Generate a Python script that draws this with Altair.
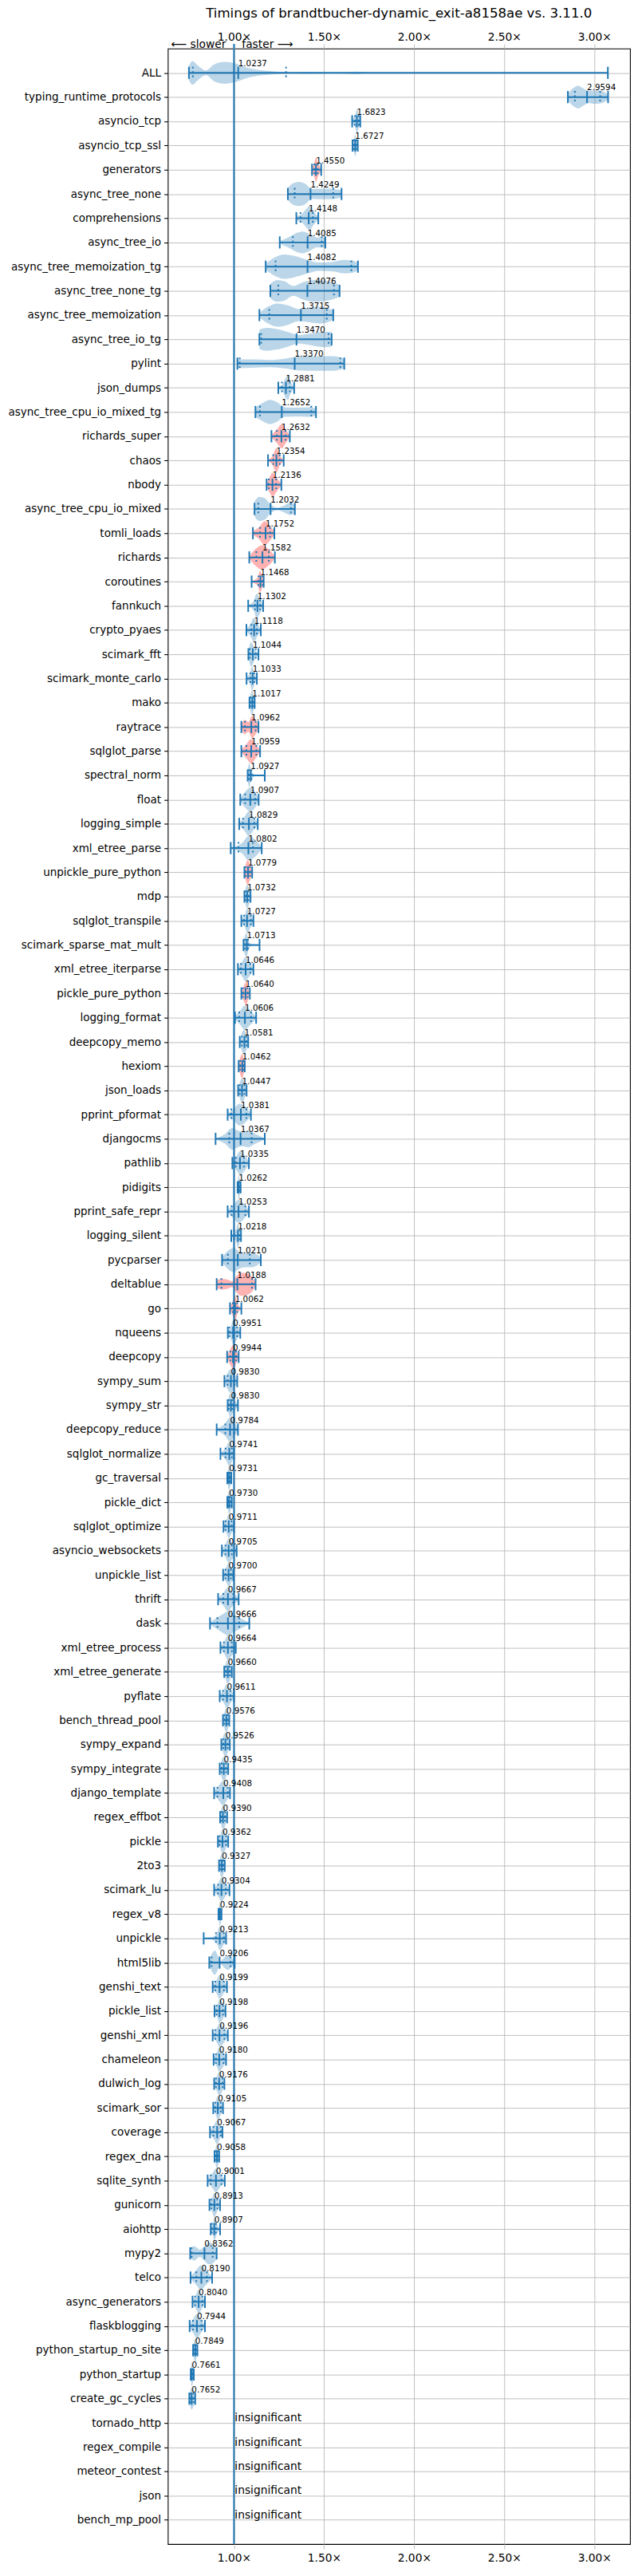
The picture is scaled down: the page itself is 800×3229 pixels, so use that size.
import json

import altair as alt
import pandas as pd

FONT = "DejaVu Sans"
C0 = "#1f77b4"
TITLE = "Timings of brandtbucher-dynamic_exit-a8158ae vs. 3.11.0"

# --- benchmark rows, top to bottom ---
names = [
    "ALL", "typing_runtime_protocols", "asyncio_tcp", "asyncio_tcp_ssl", "generators",
    "async_tree_none", "comprehensions", "async_tree_io", "async_tree_memoization_tg",
    "async_tree_none_tg", "async_tree_memoization", "async_tree_io_tg", "pylint",
    "json_dumps", "async_tree_cpu_io_mixed_tg", "richards_super", "chaos", "nbody",
    "async_tree_cpu_io_mixed", "tomli_loads", "richards", "coroutines", "fannkuch",
    "crypto_pyaes", "scimark_fft", "scimark_monte_carlo", "mako", "raytrace",
    "sqlglot_parse", "spectral_norm", "float", "logging_simple", "xml_etree_parse",
    "unpickle_pure_python", "mdp", "sqlglot_transpile", "scimark_sparse_mat_mult",
    "xml_etree_iterparse", "pickle_pure_python", "logging_format", "deepcopy_memo",
    "hexiom", "json_loads", "pprint_pformat", "djangocms", "pathlib", "pidigits",
    "pprint_safe_repr", "logging_silent", "pycparser", "deltablue", "go", "nqueens",
    "deepcopy", "sympy_sum", "sympy_str", "deepcopy_reduce", "sqlglot_normalize",
    "gc_traversal", "pickle_dict", "sqlglot_optimize", "asyncio_websockets",
    "unpickle_list", "thrift", "dask", "xml_etree_process", "xml_etree_generate",
    "pyflate", "bench_thread_pool", "sympy_expand", "sympy_integrate",
    "django_template", "regex_effbot", "pickle", "2to3", "scimark_lu", "regex_v8",
    "unpickle", "html5lib", "genshi_text", "pickle_list", "genshi_xml", "chameleon",
    "dulwich_log", "scimark_sor", "coverage", "regex_dna", "sqlite_synth", "gunicorn",
    "aiohttp", "mypy2", "telco", "async_generators", "flaskblogging",
    "python_startup_no_site", "python_startup", "create_gc_cycles",
    "tornado_http", "regex_compile", "meteor_contest", "json", "bench_mp_pool",
]

medians = [
    1.0237, 2.9594, 1.6823, 1.6727, 1.4550, 1.4249, 1.4148, 1.4085, 1.4082, 1.4076,
    1.3715, 1.3470, 1.3370, 1.2881, 1.2652, 1.2632, 1.2354, 1.2136, 1.2032, 1.1752,
    1.1582, 1.1468, 1.1302, 1.1118, 1.1044, 1.1033, 1.1017, 1.0962, 1.0959, 1.0927,
    1.0907, 1.0829, 1.0802, 1.0779, 1.0732, 1.0727, 1.0713, 1.0646, 1.0640, 1.0606,
    1.0581, 1.0462, 1.0447, 1.0381, 1.0367, 1.0335, 1.0262, 1.0253, 1.0218, 1.0210,
    1.0188, 1.0062, 0.9951, 0.9944, 0.9830, 0.9830, 0.9784, 0.9741, 0.9731, 0.9730,
    0.9711, 0.9705, 0.9700, 0.9667, 0.9666, 0.9664, 0.9660, 0.9611, 0.9576, 0.9526,
    0.9435, 0.9408, 0.9390, 0.9362, 0.9327, 0.9304, 0.9224, 0.9213, 0.9206, 0.9199,
    0.9198, 0.9196, 0.9180, 0.9176, 0.9105, 0.9067, 0.9058, 0.9001, 0.8913, 0.8907,
    0.8362, 0.8190, 0.8040, 0.7944, 0.7849, 0.7661, 0.7652,
]

mins = [
    0.750, 2.853, 1.656, 1.658, 1.433, 1.299, 1.346, 1.254, 1.176, 1.202,
    1.141, 1.141, 1.019, 1.246, 1.119, 1.208, 1.189, 1.181, 1.114, 1.105,
    1.085, 1.098, 1.079, 1.069, 1.080, 1.070, 1.086, 1.041, 1.041, 1.076,
    1.035, 1.029, 0.982, 1.058, 1.058, 1.041, 1.053, 1.022, 1.041, 1.006,
    1.032, 1.026, 1.023, 0.965, 0.898, 0.991, 1.020, 0.965, 0.985, 0.934,
    0.904, 0.978, 0.966, 0.962, 0.947, 0.965, 0.904, 0.925, 0.963, 0.963,
    0.942, 0.933, 0.940, 0.912, 0.867, 0.925, 0.946, 0.921, 0.939, 0.930,
    0.921, 0.890, 0.923, 0.911, 0.917, 0.890, 0.914, 0.832, 0.863, 0.882,
    0.892, 0.882, 0.887, 0.890, 0.885, 0.867, 0.892, 0.854, 0.864, 0.871,
    0.757, 0.759, 0.770, 0.754, 0.773, 0.760, 0.752,
]

q1s = [
    0.772, 2.892, 1.672, 1.666, 1.446, 1.337, 1.369, 1.327, 1.231, 1.246,
    1.196, 1.151, 1.032, 1.266, 1.144, 1.238, 1.218, 1.193, 1.135, 1.145,
    1.124, 1.136, 1.117, 1.096, 1.088, 1.091, 1.092, 1.061, 1.069, 1.083,
    1.062, 1.050, 1.025, 1.066, 1.064, 1.056, 1.062, 1.039, 1.050, 1.029,
    1.044, 1.035, 1.032, 0.985, 0.974, 1.010, 1.023, 0.987, 1.000, 0.966,
    0.930, 0.994, 0.974, 0.980, 0.965, 0.971, 0.952, 0.953, 0.968, 0.968,
    0.953, 0.953, 0.953, 0.941, 0.908, 0.944, 0.955, 0.939, 0.947, 0.941,
    0.932, 0.908, 0.930, 0.920, 0.924, 0.912, 0.918, 0.900, 0.876, 0.896,
    0.904, 0.896, 0.900, 0.900, 0.896, 0.886, 0.898, 0.871, 0.874, 0.877,
    0.765, 0.791, 0.784, 0.772, 0.779, 0.763, 0.758,
]

q3s = [
    1.289, 3.032, 1.693, 1.680, 1.465, 1.551, 1.4375, 1.487, 1.651, 1.555,
    1.515, 1.525, 1.590, 1.310, 1.429, 1.286, 1.254, 1.234, 1.316, 1.200,
    1.193, 1.159, 1.145, 1.127, 1.121, 1.113, 1.110, 1.120, 1.124, 1.097,
    1.117, 1.113, 1.105, 1.089, 1.081, 1.094, 1.078, 1.091, 1.076, 1.095,
    1.069, 1.053, 1.058, 1.069, 1.098, 1.055, 1.031, 1.063, 1.032, 1.088,
    1.100, 1.018, 1.018, 1.012, 1.003, 0.990, 1.000, 0.988, 0.978, 0.980,
    0.987, 0.988, 0.983, 0.996, 1.029, 0.988, 0.976, 0.981, 0.966, 0.965,
    0.956, 0.966, 0.950, 0.956, 0.941, 0.955, 0.927, 0.944, 0.981, 0.944,
    0.939, 0.947, 0.942, 0.937, 0.927, 0.927, 0.912, 0.930, 0.908, 0.900,
    0.882, 0.850, 0.825, 0.820, 0.791, 0.771, 0.775,
]

maxs = [
    3.075, 3.076, 1.701, 1.687, 1.484, 1.597, 1.468, 1.507, 1.688, 1.586,
    1.551, 1.542, 1.612, 1.334, 1.455, 1.310, 1.276, 1.263, 1.338, 1.224,
    1.227, 1.165, 1.162, 1.149, 1.136, 1.127, 1.115, 1.136, 1.145, 1.171,
    1.137, 1.132, 1.154, 1.101, 1.092, 1.108, 1.142, 1.108, 1.088, 1.123,
    1.079, 1.060, 1.070, 1.094, 1.171, 1.083, 1.037, 1.083, 1.039, 1.149,
    1.120, 1.041, 1.035, 1.026, 1.018, 1.022, 1.022, 1.000, 0.985, 0.988,
    1.000, 1.015, 0.996, 1.026, 1.085, 1.010, 0.988, 1.000, 0.974, 0.977,
    0.968, 0.978, 0.962, 0.968, 0.949, 0.975, 0.931, 0.956, 1.004, 0.961,
    0.953, 0.966, 0.956, 0.947, 0.939, 0.936, 0.918, 0.949, 0.923, 0.923,
    0.904, 0.879, 0.839, 0.839, 0.797, 0.777, 0.785,
]

red_rows = [
    "generators", "richards_super", "chaos", "nbody", "tomli_loads", "richards",
    "coroutines", "raytrace", "sqlglot_parse", "unpickle_pure_python",
    "pickle_pure_python", "hexiom", "deltablue", "go", "deepcopy",
]

# violin outlines: (value, half width in row units)
shapes = [
    [[0.75, 0.30], [0.77, 0.49], [0.80, 0.30], [0.845, 0.10], [0.89, 0.35], [0.95, 0.45],
     [1.01, 0.38], [1.08, 0.20], [1.16, 0.10], [1.26, 0.04], [1.33, 0.02], [1.42, 0.04],
     [1.52, 0.02], [1.60, 0.02], [1.68, 0.05], [1.76, 0.01], [2.2, 0.005], [2.95, 0.01],
     [3.075, 0.005]],
    [[2.853, 0.15], [2.88, 0.35], [2.91, 0.47], [2.94, 0.35], [2.97, 0.25], [3.0, 0.28],
     [3.04, 0.25], [3.076, 0.10]],
    [[1.656, 0.05], [1.672, 0.25], [1.684, 0.5], [1.693, 0.25], [1.701, 0.05]],
    [[1.658, 0.05], [1.667, 0.3], [1.673, 0.45], [1.680, 0.25], [1.687, 0.05]],
    [[1.433, 0.05], [1.446, 0.3], [1.455, 0.5], [1.465, 0.3], [1.484, 0.05]],
    [[1.299, 0.25], [1.33, 0.45], [1.36, 0.5], [1.40, 0.4], [1.43, 0.2], [1.47, 0.22],
     [1.53, 0.22], [1.597, 0.15]],
    [[1.346, 0.08], [1.38, 0.2], [1.41, 0.45], [1.42, 0.5], [1.44, 0.3], [1.468, 0.05]],
    [[1.254, 0.05], [1.30, 0.2], [1.35, 0.4], [1.38, 0.45], [1.42, 0.35], [1.46, 0.2],
     [1.49, 0.22], [1.507, 0.15]],
    [[1.176, 0.12], [1.22, 0.35], [1.28, 0.5], [1.33, 0.45], [1.40, 0.3], [1.47, 0.17],
     [1.55, 0.2], [1.61, 0.28], [1.66, 0.25], [1.688, 0.15]],
    [[1.202, 0.3], [1.24, 0.45], [1.28, 0.4], [1.33, 0.2], [1.38, 0.35], [1.45, 0.45],
     [1.52, 0.4], [1.586, 0.25]],
    [[1.141, 0.1], [1.19, 0.35], [1.24, 0.48], [1.30, 0.4], [1.36, 0.25], [1.42, 0.3],
     [1.48, 0.35], [1.551, 0.2]],
    [[1.141, 0.4], [1.18, 0.47], [1.24, 0.42], [1.30, 0.3], [1.36, 0.18], [1.43, 0.25],
     [1.50, 0.32], [1.542, 0.3]],
    [[1.019, 0.18], [1.10, 0.17], [1.20, 0.15], [1.28, 0.2], [1.35, 0.28], [1.45, 0.3],
     [1.55, 0.3], [1.612, 0.2]],
    [[1.246, 0.05], [1.27, 0.15], [1.29, 0.45], [1.30, 0.5], [1.31, 0.3], [1.334, 0.05]],
    [[1.119, 0.2], [1.16, 0.38], [1.20, 0.5], [1.24, 0.4], [1.28, 0.2], [1.35, 0.18],
     [1.42, 0.2], [1.455, 0.15]],
    [[1.208, 0.05], [1.24, 0.3], [1.265, 0.5], [1.29, 0.25], [1.31, 0.05]],
    [[1.189, 0.03], [1.215, 0.2], [1.235, 0.5], [1.255, 0.2], [1.276, 0.03]],
    [[1.181, 0.05], [1.20, 0.35], [1.215, 0.5], [1.235, 0.3], [1.263, 0.05]],
    [[1.114, 0.3], [1.14, 0.5], [1.17, 0.45], [1.20, 0.2], [1.24, 0.05], [1.28, 0.15],
     [1.31, 0.25], [1.338, 0.2]],
    [[1.105, 0.08], [1.14, 0.25], [1.17, 0.5], [1.20, 0.3], [1.224, 0.08]],
    [[1.085, 0.05], [1.12, 0.35], [1.155, 0.5], [1.19, 0.35], [1.227, 0.05]],
    [[1.098, 0.03], [1.13, 0.15], [1.145, 0.45], [1.155, 0.3], [1.165, 0.05]],
    [[1.079, 0.03], [1.11, 0.2], [1.125, 0.5], [1.145, 0.3], [1.162, 0.03]],
    [[1.069, 0.03], [1.095, 0.3], [1.11, 0.5], [1.13, 0.25], [1.149, 0.03]],
    [[1.08, 0.1], [1.095, 0.5], [1.105, 0.4], [1.12, 0.15], [1.136, 0.05]],
    [[1.07, 0.03], [1.09, 0.25], [1.10, 0.5], [1.115, 0.2], [1.127, 0.03]],
    [[1.086, 0.05], [1.10, 0.5], [1.115, 0.05]],
    [[1.041, 0.1], [1.06, 0.3], [1.08, 0.2], [1.10, 0.45], [1.12, 0.3], [1.136, 0.1]],
    [[1.041, 0.05], [1.07, 0.3], [1.095, 0.5], [1.12, 0.3], [1.145, 0.05]],
    [[1.076, 0.2], [1.085, 0.5], [1.095, 0.2], [1.12, 0.03], [1.171, 0.02]],
    [[1.035, 0.05], [1.065, 0.35], [1.09, 0.5], [1.115, 0.35], [1.137, 0.05]],
    [[1.029, 0.05], [1.06, 0.3], [1.08, 0.5], [1.105, 0.3], [1.132, 0.05]],
    [[0.982, 0.03], [1.02, 0.1], [1.05, 0.25], [1.08, 0.5], [1.11, 0.4], [1.154, 0.05]],
    [[1.058, 0.05], [1.075, 0.5], [1.09, 0.3], [1.101, 0.05]],
    [[1.058, 0.05], [1.073, 0.5], [1.092, 0.05]],
    [[1.041, 0.05], [1.06, 0.25], [1.073, 0.5], [1.09, 0.3], [1.108, 0.05]],
    [[1.053, 0.2], [1.07, 0.5], [1.08, 0.2], [1.10, 0.03], [1.142, 0.02]],
    [[1.022, 0.05], [1.045, 0.3], [1.065, 0.5], [1.085, 0.3], [1.108, 0.05]],
    [[1.041, 0.05], [1.06, 0.4], [1.068, 0.5], [1.08, 0.2], [1.088, 0.05]],
    [[1.006, 0.05], [1.035, 0.3], [1.06, 0.5], [1.09, 0.3], [1.123, 0.05]],
    [[1.032, 0.05], [1.055, 0.5], [1.07, 0.3], [1.079, 0.05]],
    [[1.026, 0.05], [1.045, 0.5], [1.06, 0.05]],
    [[1.023, 0.05], [1.045, 0.5], [1.06, 0.3], [1.07, 0.05]],
    [[0.965, 0.05], [1.0, 0.25], [1.03, 0.45], [1.05, 0.4], [1.094, 0.05]],
    [[0.898, 0.02], [0.95, 0.2], [0.99, 0.45], [1.02, 0.35], [1.05, 0.3], [1.08, 0.35],
     [1.12, 0.2], [1.171, 0.02]],
    [[0.991, 0.05], [1.015, 0.3], [1.035, 0.5], [1.06, 0.3], [1.083, 0.05]],
    [[1.02, 0.05], [1.026, 0.5], [1.037, 0.05]],
    [[0.965, 0.05], [1.0, 0.3], [1.025, 0.48], [1.05, 0.35], [1.083, 0.05]],
    [[0.985, 0.05], [1.01, 0.2], [1.022, 0.5], [1.03, 0.3], [1.039, 0.05]],
    [[0.934, 0.1], [0.97, 0.4], [1.0, 0.5], [1.03, 0.35], [1.06, 0.3], [1.10, 0.3],
     [1.149, 0.1]],
    [[0.904, 0.15], [0.93, 0.22], [0.96, 0.2], [0.99, 0.12], [1.01, 0.3], [1.04, 0.48],
     [1.07, 0.45], [1.10, 0.3], [1.12, 0.1]],
    [[0.978, 0.05], [1.0, 0.4], [1.006, 0.5], [1.02, 0.2], [1.041, 0.03]],
    [[0.966, 0.05], [0.985, 0.3], [0.995, 0.5], [1.015, 0.3], [1.035, 0.05]],
    [[0.962, 0.05], [0.985, 0.4], [0.994, 0.5], [1.01, 0.3], [1.026, 0.05]],
    [[0.947, 0.05], [0.97, 0.4], [0.983, 0.5], [1.0, 0.3], [1.018, 0.05]],
    [[0.965, 0.1], [0.98, 0.5], [0.995, 0.3], [1.022, 0.05]],
    [[0.904, 0.05], [0.95, 0.25], [0.978, 0.5], [1.0, 0.3], [1.022, 0.05]],
    [[0.925, 0.05], [0.955, 0.25], [0.974, 0.5], [0.99, 0.3], [1.0, 0.05]],
    [[0.963, 0.1], [0.973, 0.5], [0.985, 0.1]],
    [[0.963, 0.1], [0.973, 0.5], [0.988, 0.1]],
    [[0.942, 0.05], [0.96, 0.3], [0.971, 0.5], [0.985, 0.3], [1.0, 0.05]],
    [[0.933, 0.05], [0.955, 0.3], [0.97, 0.5], [0.99, 0.35], [1.015, 0.05]],
    [[0.94, 0.05], [0.96, 0.35], [0.97, 0.5], [0.985, 0.3], [0.996, 0.05]],
    [[0.912, 0.05], [0.945, 0.3], [0.967, 0.5], [0.99, 0.3], [1.026, 0.05]],
    [[0.867, 0.05], [0.91, 0.25], [0.945, 0.42], [0.967, 0.5], [1.0, 0.35], [1.04, 0.2],
     [1.085, 0.03]],
    [[0.925, 0.05], [0.95, 0.3], [0.966, 0.5], [0.99, 0.3], [1.01, 0.05]],
    [[0.946, 0.05], [0.966, 0.5], [0.988, 0.05]],
    [[0.921, 0.05], [0.945, 0.3], [0.961, 0.5], [0.98, 0.3], [1.0, 0.05]],
    [[0.939, 0.05], [0.958, 0.5], [0.974, 0.05]],
    [[0.93, 0.05], [0.952, 0.5], [0.977, 0.05]],
    [[0.921, 0.05], [0.943, 0.5], [0.968, 0.05]],
    [[0.89, 0.05], [0.915, 0.3], [0.94, 0.5], [0.96, 0.3], [0.978, 0.05]],
    [[0.923, 0.05], [0.939, 0.5], [0.962, 0.05]],
    [[0.911, 0.05], [0.925, 0.3], [0.936, 0.5], [0.955, 0.3], [0.968, 0.05]],
    [[0.917, 0.05], [0.933, 0.5], [0.949, 0.05]],
    [[0.89, 0.05], [0.915, 0.3], [0.93, 0.5], [0.95, 0.3], [0.975, 0.05]],
    [[0.914, 0.05], [0.922, 0.5], [0.931, 0.05]],
    [[0.832, 0.02], [0.88, 0.05], [0.91, 0.3], [0.92, 0.5], [0.94, 0.3], [0.956, 0.05]],
    [[0.863, 0.1], [0.88, 0.4], [0.895, 0.5], [0.91, 0.3], [0.925, 0.05], [0.945, 0.2],
     [0.965, 0.3], [0.985, 0.2], [1.004, 0.05]],
    [[0.882, 0.05], [0.905, 0.3], [0.92, 0.5], [0.94, 0.3], [0.961, 0.05]],
    [[0.892, 0.05], [0.91, 0.3], [0.92, 0.5], [0.94, 0.3], [0.953, 0.05]],
    [[0.882, 0.05], [0.905, 0.3], [0.92, 0.5], [0.945, 0.3], [0.966, 0.05]],
    [[0.887, 0.05], [0.905, 0.3], [0.918, 0.5], [0.94, 0.3], [0.956, 0.05]],
    [[0.89, 0.05], [0.905, 0.3], [0.918, 0.5], [0.935, 0.3], [0.947, 0.05]],
    [[0.885, 0.05], [0.9, 0.3], [0.91, 0.5], [0.925, 0.3], [0.939, 0.05]],
    [[0.867, 0.05], [0.89, 0.3], [0.907, 0.5], [0.92, 0.3], [0.936, 0.05]],
    [[0.892, 0.05], [0.906, 0.5], [0.918, 0.05]],
    [[0.854, 0.05], [0.88, 0.3], [0.9, 0.5], [0.92, 0.3], [0.949, 0.05]],
    [[0.864, 0.05], [0.88, 0.3], [0.891, 0.5], [0.905, 0.3], [0.923, 0.05]],
    [[0.871, 0.05], [0.885, 0.3], [0.891, 0.5], [0.905, 0.2], [0.923, 0.05]],
    [[0.757, 0.2], [0.78, 0.3], [0.81, 0.15], [0.83, 0.25], [0.86, 0.45], [0.885, 0.4],
     [0.904, 0.2]],
    [[0.759, 0.05], [0.79, 0.3], [0.815, 0.5], [0.845, 0.3], [0.879, 0.05]],
    [[0.77, 0.05], [0.79, 0.3], [0.804, 0.5], [0.82, 0.3], [0.839, 0.05]],
    [[0.754, 0.05], [0.775, 0.3], [0.794, 0.5], [0.815, 0.3], [0.839, 0.05]],
    [[0.773, 0.05], [0.785, 0.5], [0.797, 0.05]],
    [[0.760, 0.05], [0.766, 0.5], [0.777, 0.05]],
    [[0.752, 0.05], [0.765, 0.45], [0.785, 0.05]],
]

x_ticks = [1.0, 1.5, 2.0, 2.5, 3.0]

# --- build tables ---
n_sig = len(medians)
stats = pd.DataFrame({
    "name": names[:n_sig],
    "pos": range(1, n_sig + 1),
    "lo": mins, "q1": q1s, "med": medians, "q3": q3s, "hi": maxs,
})
stats["top"] = stats["pos"] - 0.25
stats["bot"] = stats["pos"] + 0.25
stats["label"] = stats["med"].map(lambda v: f"{v:.4f}")

vrows = []
for pos, (name, pts) in enumerate(zip(names, shapes), start=1):
    kind = "red" if name in red_rows else "blue"
    for x, w in pts:
        vrows.append({"name": name, "kind": kind, "x": x, "y1": pos - w, "y2": pos + w})
violins = pd.DataFrame(vrows)

ends = stats.melt(id_vars=["name", "top", "bot"], value_vars=["lo", "med", "hi"], value_name="x")
quarts = stats.melt(id_vars=["name", "top", "bot"], value_vars=["q1", "q3"], value_name="x")
insig = pd.DataFrame({"name": names[n_sig:], "pos": range(n_sig + 1, len(names) + 1)})
insig["x"] = 1.0
insig["text"] = "insignificant"

xs = alt.Scale(domain=[0.633, 3.198], nice=False, zero=False)
ys = alt.Scale(domain=[0, len(names) + 1], reverse=True, nice=False, zero=False)

x_fmt = "format(datum.value, '.2f') + '×'"
x_top = alt.Axis(
    orient="top", values=x_ticks, labelExpr=x_fmt, title=None, domain=False,
    tickSize=6, tickColor="#b0b0b0", tickWidth=0.8, labelPadding=5,
    labelBaseline="alphabetic", labelFont=FONT, labelFontSize=13.9, labelColor="black",
    grid=True, gridColor="#b0b0b0", gridWidth=0.8,
)
x_bottom = alt.Axis(
    orient="bottom", values=x_ticks, labelExpr=x_fmt, title=None, domain=False,
    tickSize=6, tickColor="#b0b0b0", tickWidth=0.8, labelPadding=16,
    labelBaseline="alphabetic", labelFont=FONT, labelFontSize=13.9, labelColor="black",
    grid=False,
)
y_axis = alt.Axis(
    values=list(range(1, len(names) + 1)),
    labelExpr=f"{json.dumps(names)}[datum.value - 1]",
    title=None, domain=False, tickSize=4.9, tickColor="black", tickWidth=1.1,
    labelPadding=4, labelFont=FONT, labelFontSize=13.6, labelColor="black",
    labelBaseline="middle", labelOverlap=False, labelFlush=False, labelLimit=0,
    grid=True, gridColor="#b0b0b0", gridWidth=0.8,
)

violin = alt.Chart(violins).mark_area(
    interpolate="monotone", orient="vertical", opacity=0.3
).encode(
    x=alt.X("x:Q", scale=xs, axis=x_top),
    y=alt.Y("y1:Q", scale=ys, axis=y_axis, stack=None),
    y2="y2:Q",
    color=alt.Color("kind:N", scale=alt.Scale(domain=["blue", "red"], range=[C0, "#ff0000"]),
                    legend=None),
    detail="name:N",
)

baseline_df = pd.DataFrame({"x": [1.0]})
one = alt.Chart(baseline_df).mark_rule(color=C0, strokeWidth=2).encode(
    x=alt.X("x:Q", scale=xs, axis=None)
)
one_tick = alt.Chart(baseline_df).mark_rule(color=C0, strokeWidth=2).encode(
    x=alt.X("x:Q", scale=xs, axis=None), y=alt.value(-6), y2=alt.value(0)
)

bars = alt.Chart(stats).mark_rule(color=C0, strokeWidth=2).encode(
    x=alt.X("lo:Q", scale=xs, axis=x_bottom),
    x2="hi:Q",
    y=alt.Y("pos:Q", scale=ys, axis=None),
)

caps = alt.Chart(ends).mark_rule(color=C0, strokeWidth=2).encode(
    x=alt.X("x:Q", scale=xs, axis=None),
    y=alt.Y("top:Q", scale=ys, axis=None),
    y2="bot:Q",
)

dots = alt.Chart(quarts).mark_rule(color=C0, strokeWidth=2, strokeDash=[2.1, 3.4]).encode(
    x=alt.X("x:Q", scale=xs, axis=None),
    y=alt.Y("top:Q", scale=ys, axis=None),
    y2="bot:Q",
)

labels = alt.Chart(stats).mark_text(
    align="left", baseline="alphabetic", dy=-8.3, font=FONT, fontSize=10.4, color="black"
).encode(
    x=alt.X("med:Q", scale=xs, axis=None),
    y=alt.Y("pos:Q", scale=ys, axis=None),
    text="label:N",
)

insig_text = alt.Chart(insig).mark_text(
    align="left", baseline="alphabetic", dx=1, dy=-2, font=FONT, fontSize=13.9, color="black"
).encode(
    x=alt.X("x:Q", scale=xs, axis=None),
    y=alt.Y("pos:Q", scale=ys, axis=None),
    text="text:N",
)

slower = alt.Chart(pd.DataFrame({"x": [1.0], "t": ["⟵ slower"]})).mark_text(
    align="right", baseline="alphabetic", y=-1, dx=-10, font=FONT, fontSize=13.9, color="black"
).encode(x=alt.X("x:Q", scale=xs, axis=None), text="t:N")

faster = alt.Chart(pd.DataFrame({"x": [1.0], "t": ["faster ⟶"]})).mark_text(
    align="left", baseline="alphabetic", y=-1, dx=10, font=FONT, fontSize=13.9, color="black"
).encode(x=alt.X("x:Q", scale=xs, axis=None), text="t:N")

chart = (
    alt.layer(violin, one, one_tick, bars, caps, dots, labels, insig_text, slower, faster)
    .resolve_axis(x="independent", y="independent")
    .properties(
        width=584,
        height=3152,
        autosize=alt.AutoSizeParams(type="none"),
        padding={"left": 204, "top": 41, "right": 2, "bottom": 28},
        title=alt.TitleParams(
            TITLE, font=FONT, fontSize=16.7, fontWeight="normal", color="black",
            anchor="middle", frame="group", baseline="alphabetic", offset=1,
        ),
        background="white",
    )
    .configure_view(stroke="black", strokeWidth=1.1)
)

chart.save("out.html", embed_options={"renderer": "svg", "actions": False})
